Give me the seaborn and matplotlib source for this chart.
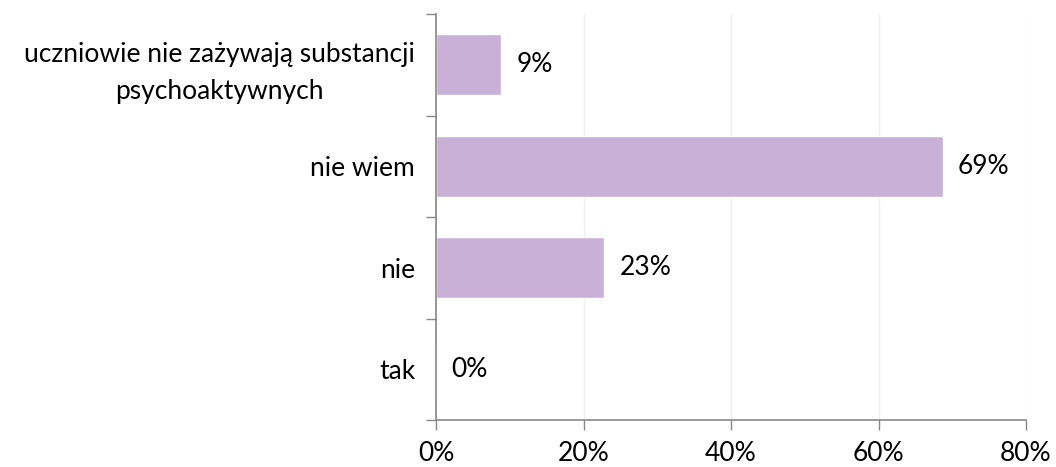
import matplotlib
matplotlib.use("Agg")
import matplotlib.pyplot as plt
import matplotlib.ticker as mticker
import seaborn as sns
import pandas as pd

# data
categories = ["uczniowie nie zażywają substancji\npsychoaktywnych", "nie wiem", "nie", "tak"]
values = [8.8, 68.7, 22.8, 0.0]
labels = ["9%", "69%", "23%", "0%"]

df = pd.DataFrame({"odp": categories, "proc": values})

sns.set_theme(style="white")
plt.rcParams["font.family"] = ["Lato", "DejaVu Sans"]

fig = plt.figure(figsize=(10.56, 4.67), dpi=100)
ax = fig.add_axes([436 / 1056, 1 - 420 / 467, 590 / 1056, 406 / 467])

sns.barplot(data=df, x="proc", y="odp", order=categories, color="#C9B0D7",
            saturation=1, width=0.6, ax=ax)

ax.set_xlim(0, 80)
ax.set_ylim(3.5, -0.5)
ax.xaxis.set_major_locator(mticker.MultipleLocator(20))
ax.xaxis.set_major_formatter(mticker.FuncFormatter(lambda v, p: f"{v:.0f}%"))
ax.grid(axis="x", color="#EEEEEE", linewidth=1)
ax.set_axisbelow(True)

# category boundary ticks on y, labels in the middle
ax.set_yticks([-0.5, 0.5, 1.5, 2.5, 3.5])
ax.set_yticklabels([])
ax.set_yticks(range(len(categories)), minor=True)
ax.set_yticklabels(categories, minor=True, multialignment="center", linespacing=1.6)
ax.tick_params(axis="y", which="major", length=7, width=1, color="#888888", direction="out", left=True)
ax.tick_params(axis="y", which="minor", length=0, pad=15, labelsize=19, labelcolor="black")
ax.tick_params(axis="x", length=7, width=1, color="#888888", direction="out", bottom=True,
               labelsize=19, labelcolor="black", pad=8)

for s in ["top", "right"]:
    ax.spines[s].set_visible(False)
for s in ["left", "bottom"]:
    ax.spines[s].set_color("#888888")
    ax.spines[s].set_linewidth(1.2)

ax.set_xlabel("")
ax.set_ylabel("")

ax.bar_label(ax.containers[0], labels=labels, padding=11, fontsize=19, color="black")

fig.savefig("out.png", dpi=100)
